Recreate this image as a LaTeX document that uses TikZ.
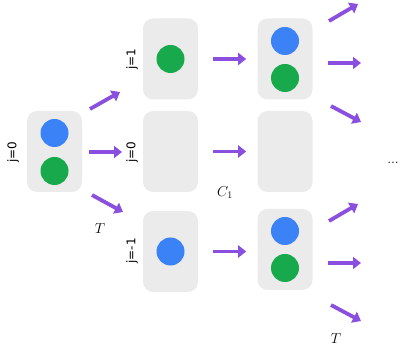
\documentclass[tikz,border=0pt]{standalone}
\usepackage{fontspec}
\newfontfamily\labfont{DejaVu Sans}
\usetikzlibrary{arrows.meta}
\definecolor{boxgray}{HTML}{EBEBEB}
\definecolor{dotblue}{HTML}{3B82F6}
\definecolor{dotgreen}{HTML}{18A94C}
\definecolor{arrowpurple}{HTML}{8A4FDE}
\tikzset{
  statebox/.style={fill=boxgray, rounded corners=10pt, minimum width=55pt, minimum height=81pt, inner sep=0pt},
  bdot/.style={circle, fill=dotblue, minimum size=28pt, inner sep=0pt},
  gdot/.style={circle, fill=dotgreen, minimum size=28pt, inner sep=0pt},
  flow/.style={draw=arrowpurple, line width=3.8pt, -{Triangle[length=8pt,width=12pt]}},
  jlab/.style={rotate=90, font=\labfont\fontsize{12}{14}\selectfont, inner sep=0pt},
  mlab/.style={font=\fontsize{14}{16}\selectfont, inner sep=0pt},
}
\begin{document}
\begin{tikzpicture}[x=1pt,y=-1pt]
\useasboundingbox (0,0) rectangle (402,352);
% left column
\node[statebox] (L) at (54.5,151.5) {};
\node[bdot] (Lb) at (54.5,133) {};
\node[gdot] (Lg) at (54.5,171) {};
\node[jlab] (jL) at (13,152) {j=0};
% middle column
\node[statebox] (M1) at (170.5,59) {};
\node[gdot] (M1g) at (170.5,59) {};
\node[jlab] (jM1) at (132,59) {j=1};
\node[statebox] (M0) at (170.5,151.5) {};
\node[jlab] (jM0) at (132,152) {j=0};
\node[statebox] (Mm) at (170.5,251.5) {};
\node[bdot] (Mmb) at (170.5,251.5) {};
\node[jlab] (jMm) at (132,251) {j=-1};
% right column
\node[statebox] (R1) at (285,59) {};
\node[bdot] (R1b) at (285,41) {};
\node[gdot] (R1g) at (285,78) {};
\node[statebox] (R0) at (285,151.5) {};
\node[statebox] (Rm) at (285,249.5) {};
\node[bdot] (Rmb) at (285,231) {};
\node[gdot] (Rmg) at (285,268) {};
% coordinates for arrows
\coordinate (a1s) at (90,109); \coordinate (a1e) at (120,92);
\coordinate (a2s) at (89,152); \coordinate (a2e) at (122,152);
\coordinate (a3s) at (92,195); \coordinate (a3e) at (123,212);
\draw[flow] (a1s) -- (a1e);
\draw[flow] (a2s) -- (a2e);
\draw[flow] (a3s) -- (a3e);
\draw[flow] (M1.east) ++(15,0) coordinate (m1s) -- ++(33,0) coordinate (m1e);
\draw[flow] (M0.east) ++(15,0) coordinate (m0s) -- ++(33,0) coordinate (m0e);
\draw[flow] (Mm.east) ++(15,0) coordinate (mms) -- ++(33,0) coordinate (mme);
\coordinate (b1s) at (329,21); \coordinate (b1e) at (358,4);
\coordinate (b2s) at (328,63); \coordinate (b2e) at (361,63);
\coordinate (b3s) at (331,106); \coordinate (b3e) at (361,122);
\draw[flow] (b1s) -- (b1e);
\draw[flow] (b2s) -- (b2e);
\draw[flow] (b3s) -- (b3e);
\coordinate (c1s) at (329,221); \coordinate (c1e) at (358,204);
\coordinate (c2s) at (328,263); \coordinate (c2e) at (361,263);
\coordinate (c3s) at (331,305); \coordinate (c3e) at (361,321);
\draw[flow] (c1s) -- (c1e);
\draw[flow] (c2s) -- (c2e);
\draw[flow] (c3s) -- (c3e);
% labels
\node[mlab] (T1) at (100,229) {$T$};
\node[mlab] (T2) at (336,339) {$T$};
\node[mlab] (C1) at (225,193) {$C_1$};
\node[mlab] (dots) at (393,163) {...};
\end{tikzpicture}
\end{document}
